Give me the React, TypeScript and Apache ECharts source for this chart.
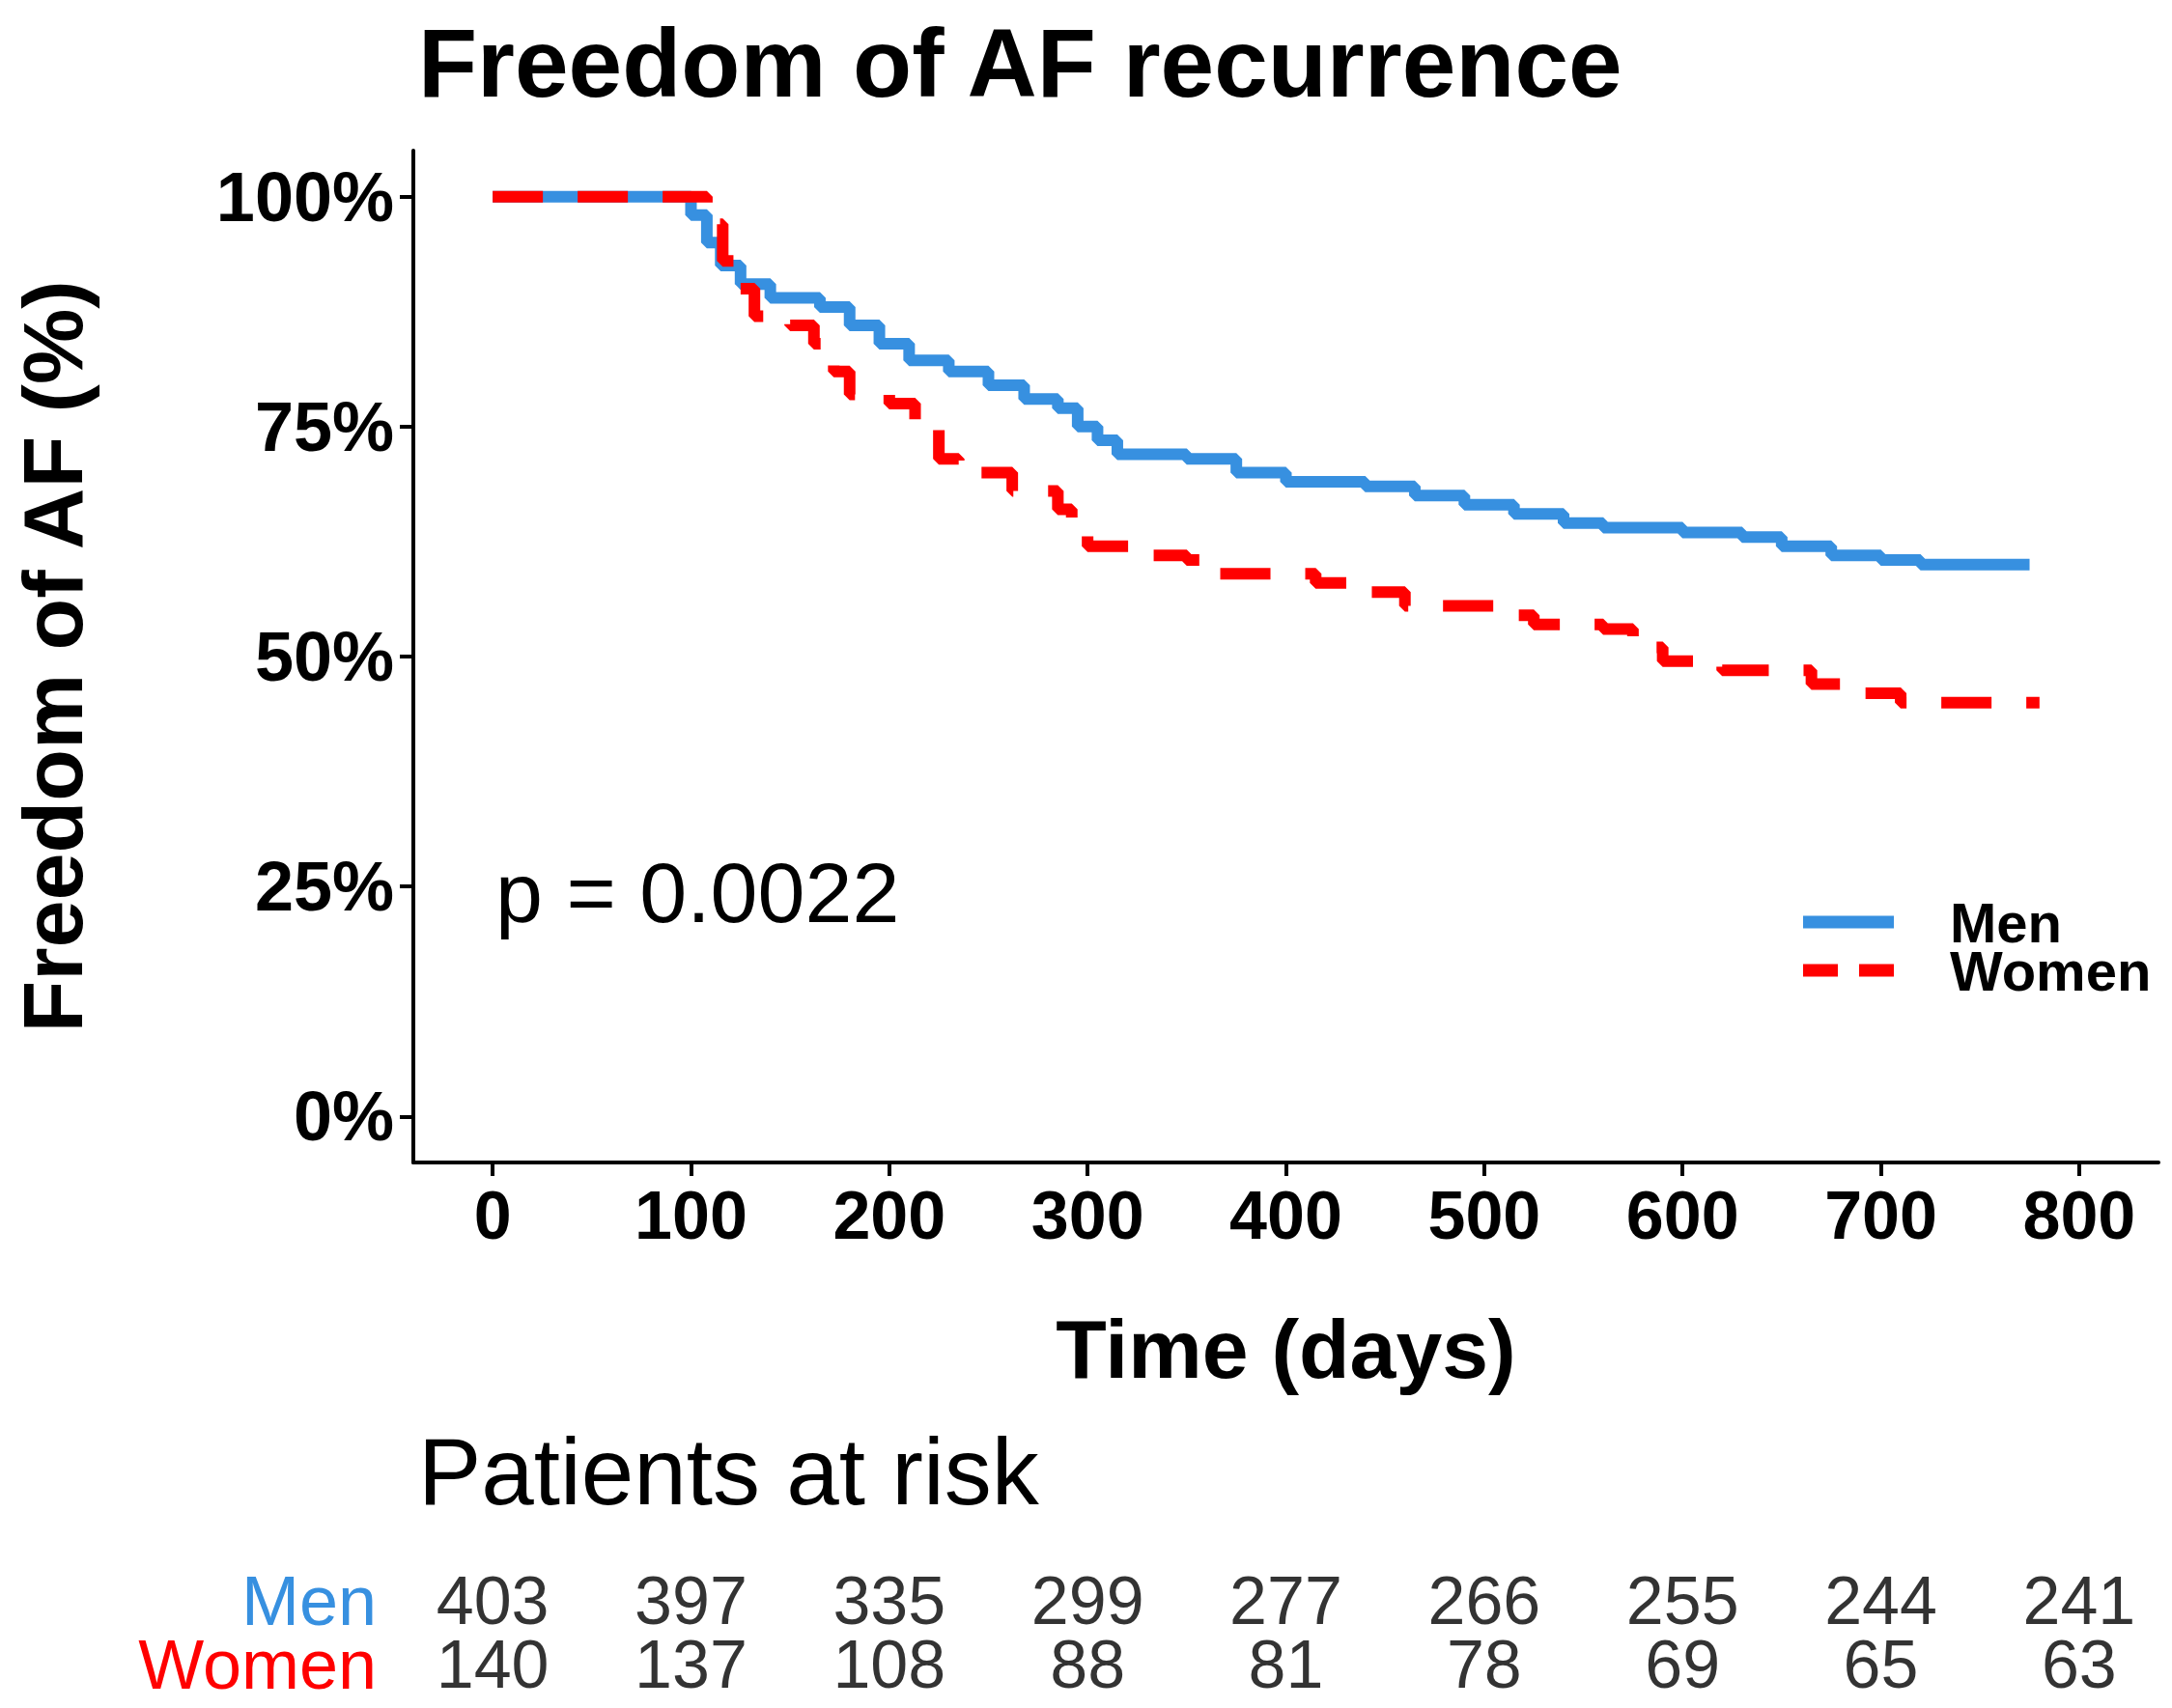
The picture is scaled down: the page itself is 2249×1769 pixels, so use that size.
import { useEffect, useRef } from 'react';
import * as echarts from 'echarts';

// Kaplan-Meier steps: [day, % free]
const menCurve: [number, number][] = [
  [0, 100], [92, 100], [100, 98], [108, 95], [115, 92.5], [125, 90.5], [140, 89], [165, 88],
  [180, 86], [195, 84], [210, 82.2], [230, 81], [250, 79.5], [268, 78], [285, 77],
  [295, 75], [305, 73.5], [315, 72], [350, 71.5], [375, 70], [400, 69], [440, 68.5],
  [465, 67.5], [490, 66.5], [515, 65.5], [540, 64.5], [560, 64], [600, 63.5], [630, 63],
  [650, 62], [675, 61], [700, 60.5], [720, 60], [775, 60],
];
const womenCurve: [number, number][] = [
  [0, 100], [98, 100], [108, 97], [116, 93], [122, 90], [132, 87], [150, 86], [162, 84],
  [172, 81], [180, 78.5], [200, 77.5], [213, 75], [225, 71.5], [235, 70], [262, 68],
  [285, 66], [292, 63.5], [300, 62], [330, 61], [350, 60.5], [365, 59], [415, 58],
  [432, 57], [460, 55.5], [505, 54.5], [525, 53.5], [560, 53], [575, 51], [590, 49.5],
  [620, 48.5], [665, 47], [685, 46], [710, 45], [780, 45],
];
const riskDays = [0, 100, 200, 300, 400, 500, 600, 700, 800];
const menAtRisk = [403, 397, 335, 299, 277, 266, 255, 244, 241];
const womenAtRisk = [140, 137, 108, 88, 81, 78, 69, 65, 63];
const yTicks = [0, 25, 50, 75, 100];

const BLUE = '#3790e0';
const RED = '#ff0000';
const FONT = '"Liberation Sans", Arial, sans-serif';
const NARROW = '"Liberation Sans Narrow", "Liberation Sans", sans-serif';

export default function App() {
  const chartRef = useRef<HTMLDivElement>(null);

  useEffect(() => {
    if (!chartRef.current) return;
    document.body.style.margin = '0';
    const chart = echarts.init(chartRef.current, null, { renderer: 'svg' });

    const riskLabel = {
      show: true, position: 'inside', formatter: (p: any) => String(p.value[2]),
      fontFamily: NARROW, fontSize: 70, color: '#000',
    };

    const option: echarts.EChartsOption = {
      animation: false,
      backgroundColor: '#fff',
      title: [
        { text: 'Freedom of AF recurrence', left: 428, top: 10, textStyle: { fontFamily: FONT, fontWeight: 'bold', fontSize: 100, color: '#000' } },
        { text: 'Patients at risk', left: 428, top: 1470, textStyle: { fontFamily: NARROW, fontWeight: 'normal', fontSize: 98, color: '#000' } },
        { text: 'p = 0.0022', left: 508, top: 875, textStyle: { fontFamily: NARROW, fontWeight: 'normal', fontSize: 88, color: '#000' } },
      ],
      grid: [
        { left: 428, top: 156, width: 1807, height: 1048 },
        { left: 428, top: 1625, width: 1807, height: 132 },
      ],
      xAxis: [
        {
          gridIndex: 0, type: 'value', min: -40, max: 840,
          name: 'Time (days)', nameLocation: 'middle', nameGap: 150,
          nameTextStyle: { fontFamily: FONT, fontWeight: 'bold', fontSize: 86, color: '#000' },
          axisLine: { onZero: false, lineStyle: { color: '#000', width: 4 } },
          axisTick: { length: 14, lineStyle: { color: '#000', width: 4 }, customValues: riskDays } as any,
          axisLabel: {
            fontFamily: FONT, fontWeight: 'bold', fontSize: 70, color: '#000', margin: 20,
            customValues: riskDays,
          } as any,
          splitLine: { show: false },
        },
        {
          gridIndex: 1, type: 'value', min: -40, max: 840,
          show: false,
        },
      ],
      yAxis: [
        {
          gridIndex: 0, type: 'value', min: -5, max: 105,
          name: 'Freedom of AF (%)', nameLocation: 'middle', nameGap: 330,
          nameTextStyle: { fontFamily: FONT, fontWeight: 'bold', fontSize: 88, color: '#000' },
          axisLine: { onZero: false, lineStyle: { color: '#000', width: 4 } },
          axisTick: { length: 14, lineStyle: { color: '#000', width: 4 }, customValues: yTicks } as any,
          axisLabel: {
            fontFamily: FONT, fontWeight: 'bold', fontSize: 72, color: '#000', margin: 20,
            customValues: yTicks, formatter: (v: number) => `${v}%`,
          } as any,
          splitLine: { show: false },
        },
        {
          gridIndex: 1, type: 'category', data: ['Men', 'Women'], inverse: true,
          axisLine: { show: false }, axisTick: { show: false }, splitLine: { show: false },
          axisLabel: {
            interval: 0, margin: 38, fontFamily: NARROW, fontSize: 72,
            formatter: (v: string) => (v === 'Men' ? `{m|${v}}` : `{w|${v}}`),
            rich: { m: { color: BLUE, fontFamily: NARROW, fontSize: 72 }, w: { color: RED, fontFamily: NARROW, fontSize: 72 } },
          },
        },
      ],
      series: [
        {
          name: 'Men', type: 'line', step: 'end', xAxisIndex: 0, yAxisIndex: 0,
          data: menCurve, symbol: 'none', lineStyle: { color: BLUE, width: 12 }, z: 2,
        },
        {
          name: 'Women', type: 'line', step: 'end', xAxisIndex: 0, yAxisIndex: 0,
          data: womenCurve, symbol: 'none', lineStyle: { color: RED, width: 12, type: [52, 36] }, z: 3,
        },
        {
          type: 'scatter', xAxisIndex: 1, yAxisIndex: 1, symbolSize: 0, silent: true,
          data: riskDays.map((d, i) => [d, 'Men', menAtRisk[i]]), label: riskLabel as any,
        },
        {
          type: 'scatter', xAxisIndex: 1, yAxisIndex: 1, symbolSize: 0, silent: true,
          data: riskDays.map((d, i) => [d, 'Women', womenAtRisk[i]]), label: riskLabel as any,
        },
      ],
      graphic: [
        { type: 'line', shape: { x1: 1867, y1: 955, x2: 1961, y2: 955 }, style: { stroke: BLUE, lineWidth: 13 } },
        { type: 'line', shape: { x1: 1867, y1: 1005, x2: 1961, y2: 1005 }, style: { stroke: RED, lineWidth: 13, lineDash: [36, 22] } },
        { type: 'text', x: 2019, y: 955, style: { text: 'Men', font: `bold 58px ${FONT}`, fill: '#000', textVerticalAlign: 'middle' } },
        { type: 'text', x: 2019, y: 1005, style: { text: 'Women', font: `bold 58px ${FONT}`, fill: '#000', textVerticalAlign: 'middle' } },
      ],
    };

    chart.setOption(option);
    return () => chart.dispose();
  }, []);

  return <div ref={chartRef} style={{ width: 2249, height: 1769 }} />;
}
